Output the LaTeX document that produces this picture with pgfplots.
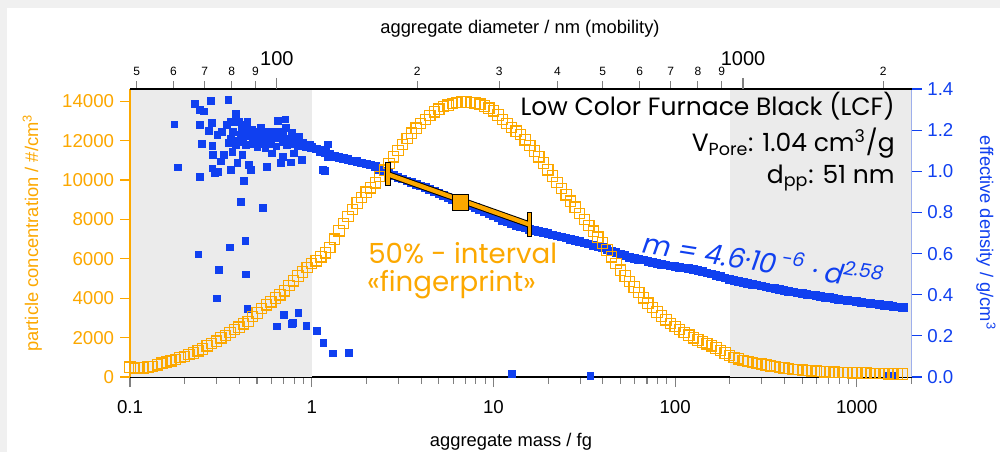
\documentclass[border=0pt]{standalone}
\usepackage{fontspec}
\setmainfont{Liberation Sans}
\newfontfamily\av{Poppins}
\newfontfamily\aveq[FakeSlant=0.18]{Poppins}
\usepackage{pgfplots}
\pgfplotsset{compat=1.18}
\definecolor{orc}{RGB}{252,168,0}
\definecolor{blc}{RGB}{16,64,240}
\definecolor{bgc}{RGB}{235,235,235}
\definecolor{frm}{RGB}{240,240,240}

\pgfplotsset{
  every axis/.append style={scale only axis, width=468.9pt, height=172.8pt,
    at={(78pt,45pt)}, anchor=south west,
    tick align=outside, major tick length=6pt, minor tick length=4pt,
    axis line style={line width=0.7pt}, tick style={line width=0.7pt},
    tick label style={font=\fontsize{11.2}{13}\selectfont, /pgf/number format/assume math mode=true},
    label style={font=\fontsize{11}{13}\selectfont}},
}

\begin{document}
\begin{tikzpicture}
\path[use as bounding box] (0,0) rectangle (600pt,271.2pt);
\fill[frm] (0,0) rectangle (600pt,271.2pt);
\fill[white] (4.2pt,0) rectangle (600pt,266.4pt);

% effective density (right axis), bottom mass axis
\begin{axis}[xmode=log, xmin=0.1, xmax=2000, ymin=0, ymax=1.4,
  axis x line*=bottom, axis y line*=right,
  y axis line style={blc}, ytick style={blc},
  ytick={0,0.2,0.4,0.6,0.8,1.0,1.2,1.4},
  yticklabel style={blc, /pgf/number format/fixed, /pgf/number format/fixed zerofill, /pgf/number format/precision=1},
  ylabel={effective density / g/cm\textsuperscript{3}},
  ylabel style={blc, at={(axis description cs:1.0953,0.5)}, anchor=center, rotate=180},
  xtick={0.1,1,10,100,1000}, xticklabels={0.1,1,10,100,1000},
  xticklabel style={yshift=-4.8pt},
  minor xtick={0.2,0.3,0.4,0.5,0.6,0.7,0.8,0.9,2,3,4,5,6,7,8,9,20,30,40,50,60,70,80,90,200,300,400,500,600,700,800,900,2000},
  xlabel={aggregate mass / fg},
  xlabel style={at={(axis description cs:0.4875,-0.2413)}, anchor=base},
]
\fill[bgc] (axis cs:0.1,0) rectangle (axis cs:1,1.4);
\fill[bgc] (axis cs:200,0) rectangle (axis cs:2000,1.4);
% scattered points in the small-mass region
\addplot[blc, only marks, mark=square*, mark size=2.0pt, mark options={draw=blc, fill=blc, line width=0pt}] table {
m d
0.176 1.228
0.184 1.019
0.227 1.327
0.243 1.298
0.255 1.290
0.278 1.343
0.348 1.346
0.243 1.225
0.272 1.196
0.283 1.236
0.249 1.133
0.242 0.971
0.284 1.124
0.287 1.079
0.284 1.014
0.294 0.990
0.306 0.995
0.303 1.176
0.320 1.192
0.316 1.047
0.329 1.079
0.343 1.225
0.359 1.241
0.383 1.277
0.351 1.136
0.359 1.006
0.366 1.095
0.382 1.128
0.398 1.241
0.407 1.176
0.416 1.079
0.390 1.039
0.425 1.225
0.434 1.128
0.443 1.241
0.449 1.192
0.462 1.006
0.452 1.031
0.423 0.954
0.472 1.160
0.482 1.192
0.503 1.119
0.524 1.209
0.535 1.152
0.558 1.112
0.569 1.022
0.594 1.152
0.605 1.087
0.620 1.192
0.653 1.244
0.661 1.160
0.676 1.039
0.698 1.071
0.718 1.252
0.724 1.209
0.733 1.128
0.771 1.042
0.781 1.185
0.798 1.087
0.852 1.168
0.886 1.055
0.925 1.119
1.009 1.112
1.124 1.103
1.179 1.003
1.222 1.071
1.157 1.006
1.230 1.131
0.36 1.16
0.37 1.19
0.39 1.15
0.41 1.21
0.42 1.14
0.44 1.17
0.46 1.13
0.47 1.20
0.49 1.15
0.50 1.17
0.52 1.13
0.53 1.18
0.55 1.16
0.57 1.14
0.58 1.19
0.60 1.13
0.63 1.16
0.64 1.12
0.67 1.19
0.69 1.14
0.70 1.17
0.74 1.16
0.76 1.13
0.79 1.15
0.82 1.14
0.84 1.12
0.87 1.13
0.90 1.14
0.95 1.12
0.98 1.13
0.407 0.852
0.541 0.820
0.432 0.661
0.354 0.629
0.238 0.596
0.310 0.520
0.435 0.499
0.300 0.381
0.443 0.329
0.706 0.301
0.847 0.310
0.643 0.245
0.781 0.258
0.790 0.262
0.938 0.248
1.066 0.225
1.161 0.164
1.315 0.115
1.610 0.118
12.7 0.015
34.2 0.006
1500 0.008
1560 0.008
};
% main density band
\addplot[blc, only marks, mark=square*, mark size=2.3pt, mark options={draw=blc, fill=blc, line width=0pt}] table {
m d
0.8913 1.125
0.9441 1.118
1.000 1.115
1.059 1.108
1.122 1.095
1.189 1.090
1.259 1.082
1.334 1.072
1.413 1.068
1.496 1.062
1.585 1.058
1.679 1.050
1.778 1.047
1.884 1.040
1.995 1.035
2.113 1.030
2.239 1.022
2.371 1.010
2.512 1.000
2.661 0.990
2.818 0.980
2.985 0.970
3.162 0.962
3.350 0.953
3.548 0.945
3.758 0.937
3.981 0.928
4.217 0.920
4.467 0.912
4.732 0.902
5.012 0.892
5.309 0.882
5.623 0.873
5.957 0.864
6.310 0.855
6.683 0.848
7.079 0.840
7.499 0.831
7.943 0.823
8.414 0.814
8.913 0.805
9.441 0.795
10.00 0.785
10.59 0.773
11.22 0.762
11.89 0.753
12.59 0.745
13.34 0.738
14.13 0.732
14.96 0.725
15.85 0.718
16.79 0.713
17.78 0.708
18.84 0.702
19.95 0.697
21.13 0.691
22.39 0.686
23.71 0.681
25.12 0.676
26.61 0.670
28.18 0.664
29.85 0.658
31.62 0.652
33.50 0.646
35.48 0.640
37.58 0.634
39.81 0.628
42.17 0.620
44.67 0.612
47.32 0.605
50.12 0.598
53.09 0.590
56.23 0.582
59.57 0.577
63.10 0.572
66.83 0.568
70.79 0.563
74.99 0.558
79.43 0.553
84.14 0.548
89.13 0.544
94.41 0.540
100.0 0.537
105.9 0.533
112.2 0.530
118.9 0.526
125.9 0.522
133.4 0.517
141.3 0.512
149.6 0.506
158.5 0.500
167.9 0.493
177.8 0.487
188.4 0.481
199.5 0.475
211.3 0.470
223.9 0.465
237.1 0.460
251.2 0.456
266.1 0.451
281.8 0.447
298.5 0.442
316.2 0.438
335.0 0.433
354.8 0.429
375.8 0.425
398.1 0.421
421.7 0.417
446.7 0.413
473.2 0.409
501.2 0.406
530.9 0.402
562.3 0.399
595.7 0.395
631.0 0.392
668.3 0.388
707.9 0.385
749.9 0.381
794.3 0.378
841.4 0.375
891.3 0.372
944.1 0.369
1000 0.366
1059 0.363
1122 0.360
1189 0.357
1259 0.355
1334 0.352
1413 0.349
1496 0.346
1585 0.344
1679 0.341
1778 0.339
1820 0.338
};
\end{axis}

% particle concentration (left axis)
\begin{axis}[xmode=log, xmin=0.1, xmax=2000, ymin=0, ymax=14620,
  hide x axis, axis y line*=left,
  y axis line style={orc}, ytick style={orc},
  ytick={0,2000,4000,6000,8000,10000,12000,14000},
  scaled y ticks=false,
  yticklabel style={orc, /pgf/number format/1000 sep={}},
  ylabel={particle concentration / \#/cm\textsuperscript{3}},
  ylabel style={orc, at={(axis description cs:-0.125,0.5)}, anchor=center},
]
\addplot[orc, only marks, mark=square, mark size=3.1pt, mark options={draw=orc, line width=0.7pt, fill=none}] table {
m c
0.1000 500
0.1059 440
0.1122 480
0.1189 460
0.1259 510
0.1334 540
0.1413 620
0.1496 700
0.1585 760
0.1679 820
0.1778 900
0.1884 990
0.1995 1050
0.2113 1150
0.2239 1220
0.2371 1330
0.2512 1420
0.2661 1580
0.2818 1710
0.2985 1820
0.3162 1990
0.3350 2110
0.3548 2260
0.3758 2420
0.3981 2530
0.4217 2700
0.4467 2830
0.4732 3060
0.5012 3250
0.5309 3480
0.5623 3660
0.5957 3820
0.6310 4010
0.6683 4170
0.7079 4370
0.7499 4640
0.7943 4880
0.8414 5130
0.8913 5330
0.9441 5560
1.000 5760
1.059 5900
1.122 6100
1.189 6300
1.259 6580
1.334 7000
1.413 7420
1.496 7800
1.585 8140
1.679 8500
1.778 8830
1.884 9120
1.995 9380
2.113 9600
2.239 9860
2.371 10180
2.512 10500
2.661 10850
2.818 11180
2.985 11500
3.162 11810
3.350 12100
3.548 12380
3.758 12630
3.981 12860
4.217 13080
4.467 13280
4.732 13460
5.012 13600
5.309 13720
5.623 13800
5.957 13880
6.310 13930
6.683 13960
7.079 13960
7.499 13940
7.943 13910
8.414 13850
8.913 13760
9.441 13650
10.00 13510
10.59 13300
11.22 13080
11.89 12860
12.59 12660
13.34 12480
14.13 12300
14.96 12040
15.85 11750
16.79 11470
17.78 11180
18.84 10860
19.95 10520
21.13 10200
22.39 9880
23.71 9560
25.12 9250
26.61 8930
28.18 8620
29.85 8300
31.62 7990
33.50 7700
35.48 7400
37.58 7100
39.81 6800
42.17 6450
44.67 6100
47.32 5760
50.12 5420
53.09 5130
56.23 4850
59.57 4570
63.10 4300
66.83 4020
70.79 3750
74.99 3520
79.43 3300
84.14 3100
89.13 2900
94.41 2720
100.0 2560
105.9 2400
112.2 2250
118.9 2120
125.9 1990
133.4 1880
141.3 1780
149.6 1680
158.5 1580
167.9 1470
177.8 1350
188.4 1220
199.5 1100
211.3 1000
223.9 920
237.1 850
251.2 780
266.1 730
281.8 690
298.5 650
316.2 610
335.0 570
354.8 530
375.8 495
398.1 460
421.7 420
446.7 390
473.2 370
501.2 350
530.9 330
562.3 310
595.7 295
631.0 280
668.3 265
707.9 255
749.9 245
794.3 240
841.4 230
891.3 225
944.1 215
1000 210
1059 205
1122 200
1189 190
1259 185
1334 178
1413 170
1496 162
1585 155
1679 152
1778 150
};
\end{axis}

% 50% interval of the mass distribution on the density curve
\begin{axis}[xmode=log, xmin=0.1, xmax=2000, ymin=0, ymax=1.4, hide axis]
\addplot[black, line width=3.8pt] coordinates {(2.63,0.985) (15.8,0.741)};
\addplot[black, line width=3.2pt] coordinates {(2.63,0.928) (2.63,1.044)};
\addplot[black, line width=3.2pt] coordinates {(15.8,0.680) (15.8,0.801)};
\addplot[orc, line width=2.6pt] coordinates {(2.63,0.985) (15.8,0.741)};
\addplot[orc, line width=2.0pt] coordinates {(2.63,0.933) (2.63,1.039)};
\addplot[orc, line width=2.0pt] coordinates {(15.8,0.685) (15.8,0.796)};
\addplot[only marks, mark=square*, mark size=4.8pt, mark options={fill=orc, draw=black, line width=0.6pt}] coordinates {(6.56,0.849)};
\end{axis}

% top mobility-diameter axis
\begin{axis}[xmode=log, xmin=48.4, xmax=2299, ymin=0, ymax=1,
  axis x line*=top, hide y axis,
  major tick length=4.5pt,
  xtick={50,60,70,80,90,200,300,400,500,600,700,800,900,2000},
  xticklabels={5,6,7,8,9,2,3,4,5,6,7,8,9,2},
  xticklabel style={font=\fontsize{7.2}{8}\selectfont},
  extra x ticks={100,1000}, extra x tick labels={100,1000},
  extra x tick style={major tick length=6.6pt, xticklabel style={font=\fontsize{12}{14}\selectfont, yshift=4pt}},
  xlabel={aggregate diameter / nm (mobility)},
  xlabel style={at={(axis description cs:0.499,1.1934)}, anchor=base},
]
\addplot[draw=none] coordinates {(100,0.5)};
\end{axis}

\node[anchor=base east, inner xsep=0pt, font=\av\fontsize{15}{18}\selectfont] at (537pt,202.2pt) {Low Color Furnace Black (LCF)};
\node[anchor=base east, inner xsep=0pt, font=\av\fontsize{15}{18}\selectfont] at (537pt,180.3pt) {V\textsubscript{Pore}: 1.04 cm\textsuperscript{3}/g};
\node[anchor=base east, inner xsep=0pt, font=\av\fontsize{15}{18}\selectfont] at (537pt,161.4pt) {d\textsubscript{pp}: 51 nm};
\node[anchor=base west, inner xsep=0pt, text=orc, font=\av\fontsize{16.6}{19}\selectfont] at (220.8pt,113.2pt) {50\% - interval};
\node[anchor=base west, inner xsep=0pt, text=orc, font=\av\fontsize{16.6}{19}\selectfont] at (220pt,96.2pt) {«fingerprint»};
\node[anchor=base west, inner xsep=0pt, rotate=-9, text=blc, font=\aveq\fontsize{16.5}{19}\selectfont] at (384pt,119.6pt) {m = 4.6·10\,\textsuperscript{-6} · d\textsuperscript{2.58}};
\end{tikzpicture}
\end{document}
